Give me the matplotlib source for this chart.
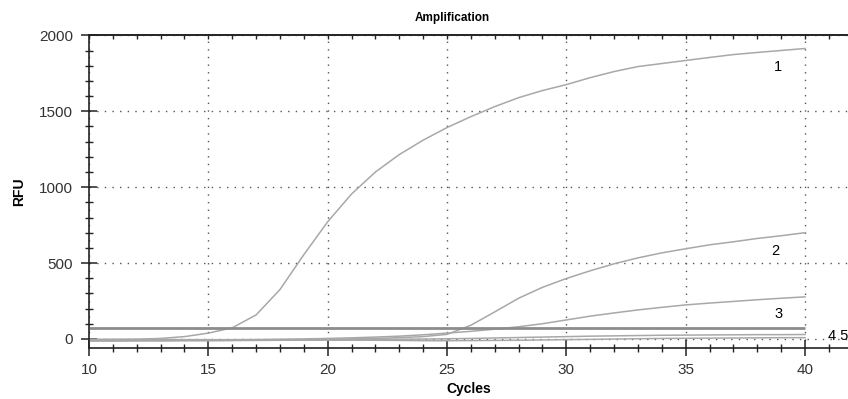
import numpy as np
import matplotlib.pyplot as plt
from matplotlib.ticker import MultipleLocator

plt.rcParams['font.family'] = ['Liberation Sans', 'DejaVu Sans']

# data
cycles = [10, 11, 12, 13, 14, 15, 16, 17, 18, 19, 20, 21, 22, 23, 24, 25,
          26, 27, 28, 29, 30, 31, 32, 33, 34, 35, 36, 37, 38, 39, 40]
curve1 = [-5, -4, -2, 3, 15, 38, 73, 158, 325, 555, 772, 955, 1100, 1215, 1310, 1393,
          1465, 1531, 1590, 1637, 1676, 1722, 1762, 1795, 1815, 1835, 1855, 1874, 1888, 1901, 1914]
curve2 = [-12, -12, -11, -11, -10, -10, -9, -8, -7, -5, -3, 0, 3, 8, 15, 30,
          90, 178, 268, 340, 398, 449, 495, 534, 567, 594, 620, 640, 662, 680, 700]
curve3 = [-8, -8, -8, -7, -7, -6, -5, -4, -2, 0, 3, 7, 12, 18, 27, 38,
          50, 64, 80, 100, 125, 150, 171, 191, 208, 224, 236, 247, 258, 268, 277]
curve4 = [-14, -14, -13, -13, -12, -12, -11, -10, -9, -8, -7, -6, -5, -3, -1, 1,
          3, 6, 9, 12, 15, 18, 20, 22, 24, 25, 26, 27, 28, 28, 29]
curve5 = [-3, -3, -4, -4, -5, -5, -6, -6, -7, -7, -8, -8, -9, -10, -12, -12,
          -11, -10, -9, -7, -5, -3, -1, 1, 3, 4, 5, 6, 7, 8, 8]
threshold = 75
curve_labels = ['1', '2', '3', '4', '5']

fig = plt.figure(figsize=(8.48, 3.99), dpi=100)
ax = fig.add_axes([89 / 848, 1 - 348 / 399, 1 - 89 / 848, (348 - 35) / 399])

for c in [curve5, curve4, curve3, curve2, curve1]:
    ax.plot(cycles, c, color='#a8a8a8', lw=1.1)
ax.hlines(threshold, 10, 40, color='#8c8c8c', lw=2.0)

ax.set_xlim(10, 41.8)
ax.set_ylim(-60, 2003)
ax.xaxis.set_major_locator(MultipleLocator(5))
ax.xaxis.set_minor_locator(MultipleLocator(1))
ax.yaxis.set_major_locator(MultipleLocator(500))
ax.yaxis.set_minor_locator(MultipleLocator(100))
ax.grid(True, which='major', linestyle=(0, (1, 4.5)), color='#555555', lw=1.0)

ax.spines['right'].set_visible(False)
for s in ['left', 'bottom', 'top']:
    ax.spines[s].set_color('#222222')
    ax.spines[s].set_linewidth(1.2)

ax.tick_params(axis='both', which='major', direction='inout', length=11, width=1.1,
               color='#222222', labelsize=11, labelcolor='#333333')
ax.tick_params(axis='both', which='minor', direction='inout', length=6, width=1.0, color='#222222')
ax.tick_params(axis='y', which='major', pad=6)
ax.tick_params(axis='x', which='major', pad=5)

# small inward ticks along the top edge
top = ax.secondary_xaxis('top')
top.xaxis.set_major_locator(MultipleLocator(5))
top.xaxis.set_minor_locator(MultipleLocator(1))
top.tick_params(which='both', direction='in', length=3, width=1.0, color='#222222',
                labeltop=False)
top.spines['top'].set_color('#222222')
top.spines['top'].set_linewidth(1.2)

# label ends of the curves
ax.text(38.7, curve1[-1] - 150, curve_labels[0], fontsize=10.5, color='black')
ax.text(38.6, curve2[-1] - 150, curve_labels[1], fontsize=10.5, color='black')
ax.text(38.7, curve3[-1] - 140, curve_labels[2], fontsize=10.5, color='black')
ax.text(40.95, curve5[-1] - 15, curve_labels[3] + ' ' + curve_labels[4], fontsize=10.5,
        color='black', clip_on=False)

ax.set_xlabel('Cycles', fontsize=10, fontweight='bold', labelpad=4)
ax.set_ylabel('RFU', fontsize=10, fontweight='bold', labelpad=9)
fig.text(452 / 848, 1 - 18 / 399, 'Amplification', ha='center', va='center',
         fontsize=8.5, fontweight='bold')

fig.savefig('out.png', dpi=100)
